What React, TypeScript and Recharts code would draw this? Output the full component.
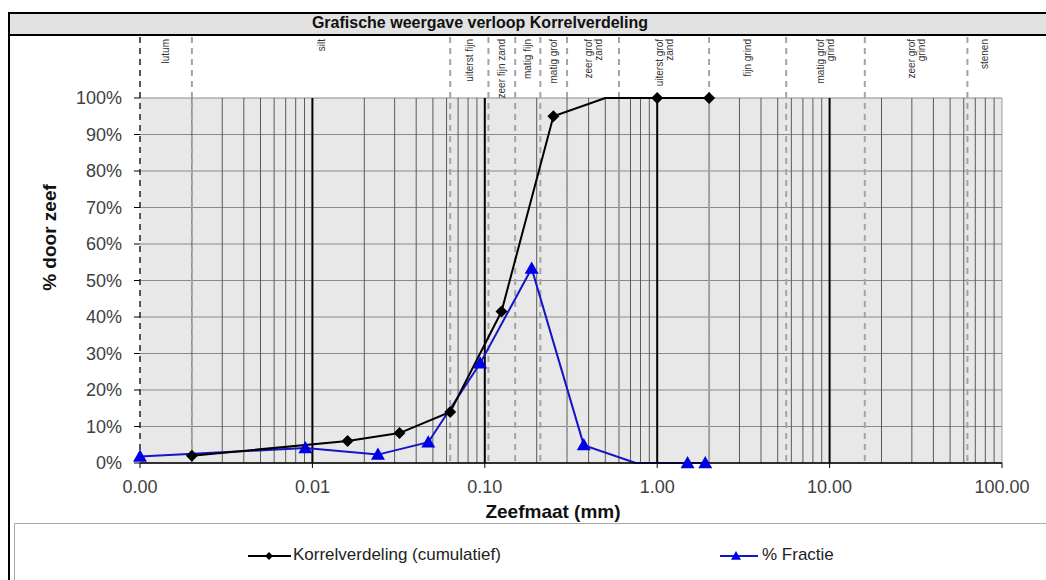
import React from 'react'
import { LineChart, Line, XAxis, YAxis, CartesianGrid, ReferenceLine, Label } from 'recharts'

// cumulative grading curve (sieve size in mm, % passing)
const korrelSieve = [0.002, 0.016, 0.032, 0.063, 0.125, 0.25, 0.5, 1.0, 2.0]
const korrelPct = [2, 6, 8.2, 14, 41.5, 95, 100, 100, 100]

// fraction per sieve
const fractieSieve = [0.001, 0.0091, 0.024, 0.047, 0.094, 0.187, 0.375, 0.75, 1.5, 1.9]
const fractiePct = [1.8, 4.1, 2.3, 5.7, 27.3, 53.3, 4.9, 0, 0, 0]

// points drawn without a marker
const unmarkedKorrel = [0.5]
const unmarkedFractie = [0.75]

// NEN soil classes
const classBounds = [0.001, 0.002, 0.063, 0.105, 0.15, 0.21, 0.3, 0.6, 2, 5.6, 16, 63, 100]
const classNames = [
  ['lutum'],
  ['silt'],
  ['uiterst fijn'],
  ['zeer fijn zand'],
  ['matig fijn'],
  ['matig grof'],
  ['zeer grof', 'zand'],
  ['uiterst grof', 'zand'],
  ['fijn grind'],
  ['matig grof', 'grind'],
  ['zeer grof', 'grind'],
  ['stenen'],
]

const xTicks = [0.001, 0.01, 0.1, 1, 10, 100]
const yTicks = [0, 10, 20, 30, 40, 50, 60, 70, 80, 90, 100]

const korrelData = korrelSieve.map((s, i) => ({ size: s, pct: korrelPct[i] }))
const fractieData = fractieSieve.map((s, i) => ({ size: s, pct: fractiePct[i] }))

const decades = [0.001, 0.01, 0.1, 1, 10]
const minorGrid = decades.flatMap((d) => [2, 3, 4, 5, 6, 7, 8, 9].map((m) => +(d * m).toPrecision(3)))
const majorGrid = [0.01, 0.1, 1, 10]

const BLUE = '#1414c8'
const FONT = '"Liberation Sans", Arial, sans-serif'

function diamond(cx: number, cy: number, r: number, fill: string, key?: string) {
  return <polygon key={key} points={`${cx},${cy - r} ${cx + r},${cy} ${cx},${cy + r} ${cx - r},${cy}`} fill={fill} />
}

function triangle(cx: number, cy: number, r: number, fill: string, key?: string) {
  return <polygon key={key} points={`${cx},${cy - r} ${cx + r},${cy + r * 0.75} ${cx - r},${cy + r * 0.75}`} fill={fill} />
}

const korrelDot = (p: any) => {
  if (unmarkedKorrel.includes(p.payload?.size)) return <g key={`k${p.index}`} />
  return diamond(p.cx, p.cy, 6, '#000', `k${p.index}`)
}

const fractieDot = (p: any) => {
  if (unmarkedFractie.includes(p.payload?.size)) return <g key={`f${p.index}`} />
  return triangle(p.cx, p.cy, 7, '#0000e6', `f${p.index}`)
}

// dashed class boundary, running up into the label strip above the plot
const boundaryShape = (color: string) => (p: any) => {
  const top = Math.min(p.y1, p.y2)
  const bottom = Math.max(p.y1, p.y2)
  return <line x1={p.x1} x2={p.x2} y1={top - 61} y2={bottom} stroke={color} strokeWidth={2} strokeDasharray="6 5" />
}

function ClassLabel(props: any) {
  const { viewBox, lines } = props
  if (!viewBox) return null
  const x = viewBox.x
  const y = viewBox.y - 59
  const lh = 10
  return (
    <text transform={`rotate(-90 ${x} ${y})`} x={x} y={y} textAnchor="end" fontSize={10} fill="#333">
      {lines.map((t: string, i: number) => (
        <tspan key={i} x={x} dy={i === 0 ? -((lines.length - 1) * lh) / 2 + 3.5 : lh}>
          {t}
        </tspan>
      ))}
    </text>
  )
}

function YTitle(props: any) {
  const { viewBox } = props
  if (!viewBox) return null
  const x = viewBox.x + 26
  const y = viewBox.y + viewBox.height / 2 - 43
  return (
    <text transform={`rotate(-90 ${x} ${y})`} x={x} y={y} textAnchor="middle" fontSize={19} fontWeight={700} fill="#111">
      % door zeef
    </text>
  )
}

export default function App() {
  return (
    <div style={{ position: 'absolute', left: 0, top: 0, width: 1046, height: 580, overflow: 'hidden', background: '#fff', fontFamily: FONT }}>
      <div style={{ position: 'absolute', left: 8, top: 12, width: 1200, height: 700, borderLeft: '2px solid #000', borderTop: '2px solid #000' }} />
      <div
        style={{
          position: 'absolute', left: 10, top: 14, width: 1200, height: 20, background: '#e2e2e2',
          borderBottom: '2px solid #000',
        }}
      >
        <div style={{ position: 'absolute', left: 0, width: 940, textAlign: 'center', top: 0, fontSize: 16, fontWeight: 700, color: '#111' }}>
          Grafische weergave verloop Korrelverdeling
        </div>
      </div>

      <div style={{ position: 'absolute', left: 0, top: 0 }}>
        <LineChart width={1046} height={580} margin={{ top: 98, right: 44, bottom: 57, left: 30 }}>
          <CartesianGrid vertical={false} fill="#e8e8e8" stroke="#8a8a8a" />
          {minorGrid.map((v) => (
            <ReferenceLine key={`m${v}`} x={v} stroke="#5a5a5a" strokeWidth={1} />
          ))}
          <ReferenceLine x={100} stroke="#9a9a9a" strokeWidth={1} />
          {classBounds.slice(0, -1).map((v, i) => (
            <ReferenceLine key={`b${v}`} x={v} shape={boundaryShape(i === 0 ? '#555' : '#a4a4a4')} />
          ))}
          {majorGrid.map((v) => (
            <ReferenceLine key={`M${v}`} x={v} stroke="#000" strokeWidth={2} />
          ))}
          {classNames.map((n, i) => (
            <ReferenceLine
              key={`c${i}`}
              x={Math.sqrt(classBounds[i] * classBounds[i + 1])}
              stroke="none"
              label={<ClassLabel lines={n} />}
            />
          ))}
          <XAxis
            dataKey="size"
            type="number"
            scale="log"
            domain={[0.001, 100]}
            ticks={xTicks}
            tickFormatter={(v: number) => v.toFixed(2)}
            height={60}
            axisLine={{ stroke: '#000', strokeWidth: 1.5 }}
            tickLine={{ stroke: '#000' }}
            tickSize={5}
            tickMargin={12}
            tick={{ fontSize: 18, fill: '#404040' }}
          >
            <Label value="Zeefmaat (mm)" position="insideBottom" offset={5} dx={-18} fontSize={19} fontWeight={700} fill="#111" />
          </XAxis>
          <YAxis
            type="number"
            domain={[0, 100]}
            ticks={yTicks}
            tickFormatter={(v: number) => `${v}%`}
            width={110}
            axisLine={false}
            tickLine={{ stroke: '#000' }}
            tickSize={6}
            tickMargin={12}
            tick={{ fontSize: 18, fill: '#404040' }}
          >
            <Label content={<YTitle />} />
          </YAxis>
          <Line
            data={fractieData}
            dataKey="pct"
            type="linear"
            stroke={BLUE}
            strokeWidth={2}
            dot={fractieDot}
            activeDot={false}
            isAnimationActive={false}
          />
          <Line
            data={korrelData}
            dataKey="pct"
            type="linear"
            stroke="#000"
            strokeWidth={2}
            dot={korrelDot}
            activeDot={false}
            isAnimationActive={false}
          />
        </LineChart>
      </div>

      <div style={{ position: 'absolute', left: 14, top: 523, width: 1100, height: 100, border: '1px solid #a8a8a8', background: '#fff' }}>
        <svg width={50} height={16} style={{ position: 'absolute', left: 233, top: 24 }}>
          <line x1={0} x2={43} y1={8} y2={8} stroke="#000" strokeWidth={2} />
          {diamond(21, 8, 4, '#000')}
        </svg>
        <span style={{ position: 'absolute', left: 278, top: 21, fontSize: 17, color: '#222', whiteSpace: 'nowrap' }}>
          Korrelverdeling (cumulatief)
        </span>
        <svg width={50} height={16} style={{ position: 'absolute', left: 705, top: 24 }}>
          <line x1={0} x2={38} y1={8} y2={8} stroke={BLUE} strokeWidth={2} />
          {triangle(16, 8, 5, '#0000e6')}
        </svg>
        <span style={{ position: 'absolute', left: 747, top: 21, fontSize: 17, color: '#222', whiteSpace: 'nowrap' }}>% Fractie</span>
      </div>
    </div>
  )
}
